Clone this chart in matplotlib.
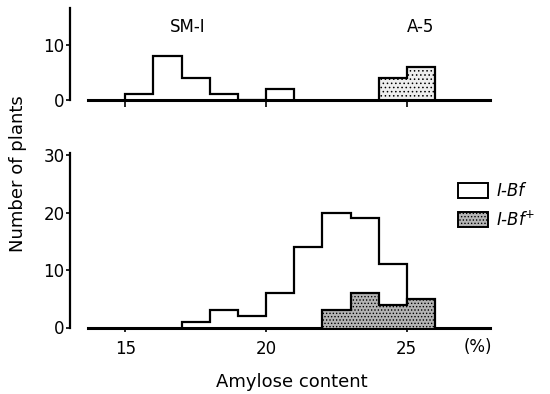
import matplotlib.pyplot as plt
from matplotlib.patches import Patch
import numpy as np

# amylose content bins (%) and plant counts
sm1_edges = [15, 16, 17, 18, 19, 20, 21]
sm1_counts = [1, 8, 4, 1, 0, 2]
a5_edges = [24, 25, 26]
a5_counts = [4, 6]

bf_edges = [17, 18, 19, 20, 21, 22, 23, 24, 25]
bf_counts = [1, 3, 2, 6, 14, 20, 19, 11]          # I-Bf (total)
bfp_edges = [22, 23, 24, 25, 26]
bfp_counts = [3, 6, 4, 5]                         # I-Bf+

plt.rcParams['font.family'] = 'DejaVu Sans'
plt.rcParams['hatch.linewidth'] = 0.6

W, H = 550, 394
fig = plt.figure(figsize=(5.5, 3.94), dpi=100)

# pixel mapping: 15% -> x=125.3, 28.15 px per unit
xl = (15 - (125.3 - 88) / 28.15, 15 + (490 - 125.3) / 28.15)

ax1 = fig.add_axes([88 / W, 1 - 100 / H, (490 - 88) / W, 92 / H])
ax2 = fig.add_axes([88 / W, 1 - 327.5 / H, (490 - 88) / W, 174.5 / H])

for ax in (ax1, ax2):
    ax.set_xlim(*xl)
    for s in ('top', 'right'):
        ax.spines[s].set_visible(False)
    ax.spines['left'].set_position(('outward', 13))
    ax.spines['left'].set_linewidth(1.6)
    ax.spines['bottom'].set_linewidth(2.2)
    ax.set_xticks([15, 20, 25])
    ax.tick_params(axis='y', direction='out', length=3, width=1.2, pad=1, labelsize=12)
    ax.patch.set_alpha(0)

# top panel
ax1.set_ylim(0, 16.7)
ax1.set_yticks([0, 10])
ax1.tick_params(axis='x', direction='out', length=5, width=1.2, labelbottom=False)
ax1.stairs(sm1_counts, sm1_edges, color='black', linewidth=1.6)
ax1.stairs(a5_counts, a5_edges, fill=True, facecolor='#eeeeee', edgecolor='black',
           hatch='....', linewidth=1.6)
fig.text(188 / W, 1 - 27 / H, 'SM-I', ha='center', va='center', fontsize=12)
fig.text(421 / W, 1 - 27 / H, 'A-5', ha='center', va='center', fontsize=12)

# bottom panel
ax2.set_ylim(0, 30.4)
ax2.set_yticks([0, 10, 20, 30])
ax2.tick_params(axis='x', direction='out', length=3, width=1.2, pad=6, labelsize=12)
ax2.stairs(bf_counts, bf_edges, color='black', linewidth=1.6, zorder=2)
ax2.stairs(bfp_counts, bfp_edges, fill=True, facecolor='#b4b4b4', edgecolor='black',
           hatch='.....', linewidth=1.6, zorder=3)
fig.text(478 / W, 1 - 347 / H, '(%)', ha='center', va='center', fontsize=12)

handles = [Patch(facecolor='white', edgecolor='black', linewidth=1.4),
           Patch(facecolor='#b4b4b4', edgecolor='black', hatch='.....', linewidth=1.4)]
ax2.legend(handles, ['I-Bf', 'I-Bf$^{+}$'], loc='upper left',
           bbox_to_anchor=(458 / W, 1 - 182 / H), bbox_transform=fig.transFigure,
           frameon=False, borderpad=0, borderaxespad=0, handlelength=1.8,
           handleheight=1.0, handletextpad=0.5, labelspacing=0.6,
           prop={'style': 'italic', 'size': 12})

fig.text(18 / W, 1 - 174 / H, 'Number of plants', rotation=90, ha='center',
         va='center', fontsize=13)
fig.text(292 / W, 1 - 382 / H, 'Amylose content', ha='center', va='center',
         fontsize=13)

plt.savefig('out.png', dpi=100)
